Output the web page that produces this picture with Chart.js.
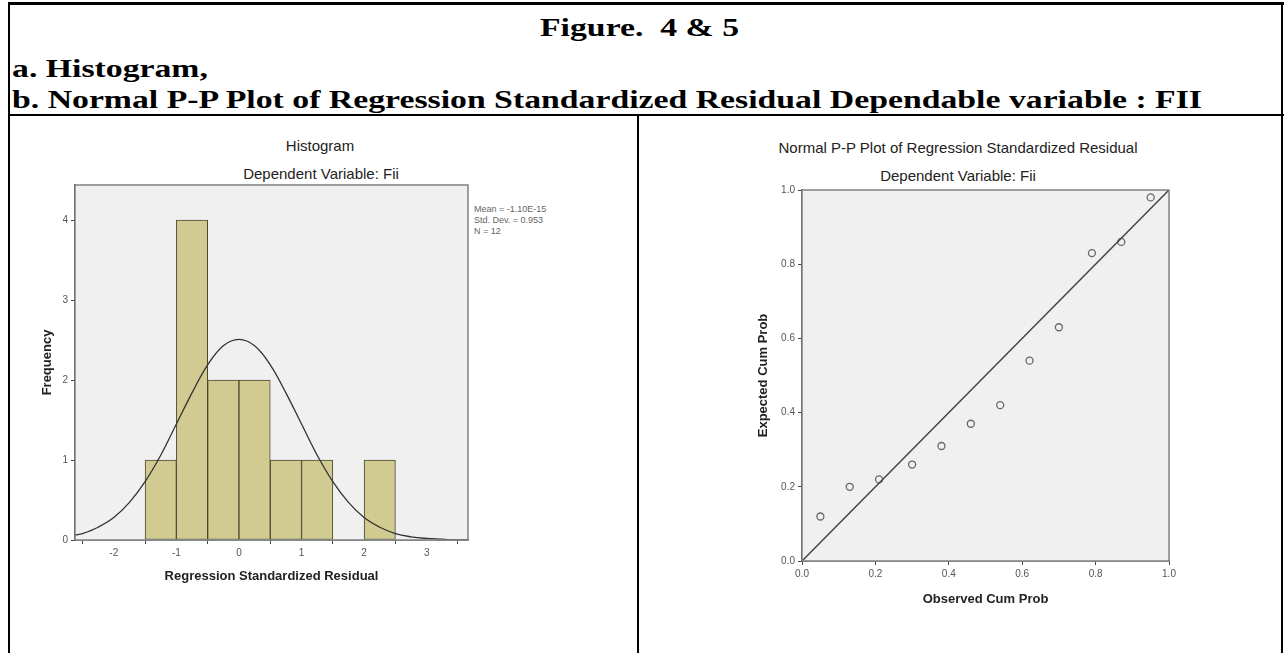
<!DOCTYPE html>
<html>
<head>
<meta charset="utf-8">
<script src="https://cdn.jsdelivr.net/npm/chart.js@4.4.1/dist/chart.umd.min.js"></script>
<style>
  body { margin: 0; width: 1285px; height: 653px; background: #fff; position: relative; overflow: hidden; }
  .hd { position: absolute; font-family: "Liberation Serif", "Times New Roman", serif; font-weight: bold; font-size: 25px; color: #000; white-space: pre; line-height: 1; transform: scaleX(1.35); transform-origin: 0 0; }
  .rule { position: absolute; background: #000; }
  .ct { position: absolute; font-family: "Liberation Sans", Arial, sans-serif; font-size: 15px; color: #222; white-space: nowrap; transform: translate(-50%, -50%); line-height: 1; }
  .stats { position: absolute; left: 474px; top: 204px; font-family: "Liberation Sans", Arial, sans-serif; font-size: 9px; line-height: 11px; color: #666; white-space: nowrap; }
  .box { position: absolute; }
</style>
</head>
<body>
<div class="hd" style="left:540px;top:15px;">Figure.  4 &amp; 5</div>
<div class="hd" style="left:12px;top:56px;">a. Histogram,</div>
<div class="hd" style="left:12px;top:87px;">b. Normal P-P Plot of Regression Standardized Residual Dependable variable : FII</div>

<div class="rule" style="left:8px;top:2px;width:1276px;height:3px;"></div>
<div class="rule" style="left:8px;top:2px;width:2px;height:651px;"></div>
<div class="rule" style="left:1281px;top:2px;width:2px;height:651px;"></div>
<div class="rule" style="left:8px;top:114px;width:1276px;height:2px;"></div>
<div class="rule" style="left:637px;top:114px;width:2px;height:539px;"></div>

<div class="ct" style="left:320px;top:145px;">Histogram</div>
<div class="ct" style="left:321px;top:173px;">Dependent Variable: Fii</div>
<div class="ct" style="left:958px;top:147px;">Normal P-P Plot of Regression Standardized Residual</div>
<div class="ct" style="left:958px;top:175px;">Dependent Variable: Fii</div>

<div class="stats">Mean = -1.10E-15<br>Std. Dev. = 0.953<br>N = 12</div>

<div class="box" style="left:10px;top:116px;width:628px;height:537px;"><canvas id="hist" width="628" height="537"></canvas></div>
<div class="box" style="left:639px;top:116px;width:643px;height:537px;"><canvas id="pp" width="643" height="537"></canvas></div>

<script>
// histogram bins (width 0.5)
const binCenters = [-1.25, -0.75, -0.25, 0.25, 0.75, 1.25, 1.75, 2.25];
const binCounts = [1, 4, 2, 2, 1, 1, 0, 1];
const histXTicks = [-2, -1, 0, 1, 2, 3];
const histYTicks = [0, 1, 2, 3, 4];

// normal curve
const curveX = [-2.62, -2.5, -2.25, -2, -1.75, -1.5, -1.25, -1, -0.75, -0.5, -0.25, 0, 0.25, 0.5, 0.75, 1, 1.25, 1.5, 1.75, 2, 2.25, 2.5, 2.75, 3, 3.25, 3.5, 3.66];
const curveY = [0.06, 0.08, 0.16, 0.28, 0.47, 0.73, 1.06, 1.45, 1.84, 2.19, 2.43, 2.51, 2.43, 2.19, 1.84, 1.45, 1.06, 0.73, 0.47, 0.28, 0.16, 0.08, 0.04, 0.02, 0.01, 0.0, 0.0];

// P-P plot
const observedCum = [0.05, 0.13, 0.21, 0.30, 0.38, 0.46, 0.54, 0.62, 0.70, 0.79, 0.87, 0.95];
const expectedCum = [0.12, 0.20, 0.22, 0.26, 0.31, 0.37, 0.42, 0.54, 0.63, 0.83, 0.86, 0.98];
const refLine = [0, 1];
const ppTicks = [0, 0.2, 0.4, 0.6, 0.8, 1.0];

const tickFont = { family: "'Liberation Sans', Arial, sans-serif", size: 10 };
const axisTitleFont = { family: "'Liberation Sans', Arial, sans-serif", size: 13, weight: "bold" };

// grey plot background + frame
const plotFrame = {
  id: "plotFrame",
  beforeDatasetsDraw(chart) {
    const { ctx, chartArea: a } = chart;
    ctx.save();
    ctx.fillStyle = "#f0f0f0";
    ctx.fillRect(a.left, a.top, a.right - a.left, a.bottom - a.top);
    ctx.restore();
  },
  afterDatasetsDraw(chart) {
    const { ctx, chartArea: a } = chart;
    ctx.save();
    ctx.strokeStyle = "#808080";
    ctx.lineWidth = 1.5;
    ctx.strokeRect(a.left, a.top, a.right - a.left, a.bottom - a.top);
    ctx.restore();
  },
};

function fixTicks(list) {
  return (axis) => { axis.ticks = list.map((v) => ({ value: v })); };
}

function axisOpts(min, max, ticks, title, fmt, size, horizontal) {
  return {
    type: "linear",
    min: min,
    max: max,
    offset: false,
    afterBuildTicks: fixTicks(ticks),
    afterFit: (axis) => { if (horizontal) axis.height = size; else axis.width = size; },
    grid: { drawOnChartArea: false, drawTicks: true, tickLength: 4, color: "#444" },
    border: { display: true, color: "#444", width: 1.5 },
    ticks: { font: tickFont, color: "#555", padding: 3, maxRotation: 0, autoSkip: false, callback: fmt },
    title: { display: true, text: title, font: axisTitleFont, color: "#222", padding: 0 },
  };
}

new Chart(document.getElementById("hist"), {
  type: "bar",
  data: {
    datasets: [
      {
        type: "line",
        data: curveX.map((x, i) => ({ x: x, y: curveY[i] })),
        borderColor: "#333",
        borderWidth: 1.3,
        pointRadius: 0,
        tension: 0.4,
        fill: false,
      },
      {
        type: "bar",
        data: binCenters.map((x, i) => ({ x: x, y: binCounts[i] })),
        backgroundColor: "#d2cb91",
        borderColor: "#4a4a30",
        borderWidth: 1,
        borderSkipped: false,
        barPercentage: 1,
        categoryPercentage: 1,
      },
    ],
  },
  options: {
    responsive: false,
    animation: false,
    layout: { padding: { top: 69, left: 29.2, right: 170, bottom: 69.2 } },
    scales: {
      x: axisOpts(-2.62, 3.66, histXTicks, "Regression Standardized Residual", (v) => v, 43.8, true),
      y: axisOpts(0, 4.44, histYTicks, "Frequency", (v) => v, 35.8, false),
    },
    plugins: { legend: { display: false }, tooltip: { enabled: false } },
  },
  plugins: [plotFrame],
});

new Chart(document.getElementById("pp"), {
  type: "scatter",
  data: {
    datasets: [
      {
        type: "line",
        data: refLine.map((v) => ({ x: v, y: v })),
        borderColor: "#444",
        borderWidth: 1.5,
        pointRadius: 0,
        fill: false,
      },
      {
        data: observedCum.map((x, i) => ({ x: x, y: expectedCum[i] })),
        pointRadius: 3.5,
        pointBorderWidth: 1.3,
        borderColor: "#666",
        backgroundColor: "rgba(0,0,0,0)",
      },
    ],
  },
  options: {
    responsive: false,
    animation: false,
    layout: { padding: { top: 74, left: 116.2, right: 113, bottom: 46.2 } },
    scales: {
      x: axisOpts(0, 1, ppTicks, "Observed Cum Prob", (v) => v.toFixed(1), 45.8, true),
      y: axisOpts(0, 1, ppTicks, "Expected Cum Prob", (v) => v.toFixed(1), 46.8, false),
    },
    plugins: { legend: { display: false }, tooltip: { enabled: false } },
  },
  plugins: [plotFrame],
});
</script>
</body>
</html>
